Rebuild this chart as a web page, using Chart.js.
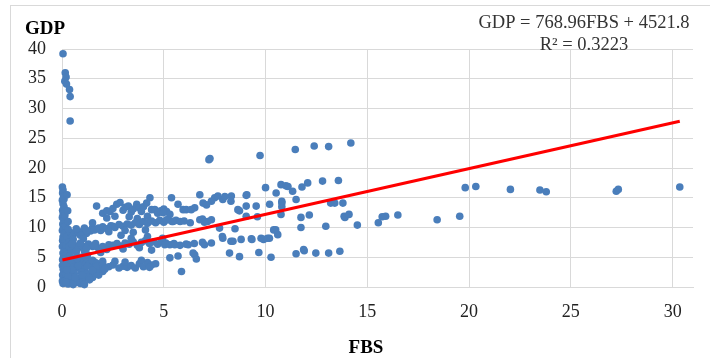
<!DOCTYPE html>
<html><head><meta charset="utf-8">
<script src="https://cdn.jsdelivr.net/npm/chart.js@4/dist/chart.umd.min.js"></script>
<style>html,body{margin:0;padding:0;background:#fff;}canvas{display:block}</style>
</head><body>
<canvas id="c" width="710" height="358"></canvas>
<script>
// ---- Data: [FBS, GDP] observations, grouped by region of the plot ----
const outlierPoints = [[0.05,39.2],[0.16,36.0],[0.2,35.3],[0.14,34.6],[0.22,34.1],[0.37,33.2],[0.4,32.0],[0.4,27.9]];
const zeroColumnPoints = [[0.02,16.8],[0.05,16.3],[0.03,15.8],[0.08,15.2],[0.02,14.6],[0.05,14.0],[0.1,13.5],[0.03,12.9],[0.06,12.3],[0.02,11.7],[0.1,11.2],[0.04,10.6],[0.07,10.0],[0.02,9.5],[0.12,9.0],[0.05,8.4],[0.03,7.8],[0.09,7.3],[0.02,6.8],[0.15,6.2],[0.05,5.7],[0.08,5.1],[0.03,4.6],[0.12,4.1],[0.02,3.6],[0.06,3.0],[0.1,2.5],[0.03,2.0],[0.07,1.5],[0.02,1.0],[0.05,0.6],[0.15,1.2],[0.2,2.2],[0.18,3.3],[0.22,5.5],[0.2,7.0],[0.25,8.5],[0.18,10.3],[0.14,12.0],[0.1,14.8],[0.2,4.8],[0.12,0.9],[0.3,11.0],[0.28,12.8],[0.25,15.5]];
const lowClusterPoints = [[0.4,9.2],[0.6,9.0],[0.8,9.1],[1.0,9.3],[1.2,9.0],[1.4,9.4],[0.5,8.5],[0.9,8.7],[0.35,7.5],[0.6,7.0],[0.8,6.6],[1.0,6.9],[1.3,7.2],[0.45,6.2],[0.7,5.9],[1.1,6.0],[0.4,5.2],[0.55,4.8],[0.9,5.0],[1.2,4.6],[0.3,4.2],[0.65,4.0],[1.0,3.8],[1.4,4.1],[0.4,3.4],[0.75,3.2],[1.1,3.0],[1.5,3.3],[0.35,2.6],[0.6,2.3],[0.95,2.5],[1.3,2.2],[0.45,1.8],[0.8,1.5],[1.2,1.7],[0.3,1.2],[0.6,1.0],[1.0,1.1],[1.5,1.6],[0.5,0.7],[0.9,0.6],[1.6,2.4],[1.8,2.0],[2.0,2.6],[1.7,3.0],[1.9,3.5],[1.6,4.2],[1.8,6.5],[1.5,6.8],[1.65,7.3],[0.3,0.5],[0.7,0.8],[1.1,0.4],[0.5,2.9],[0.85,4.4],[1.25,5.4],[0.35,6.8],[0.55,8.0],[1.05,8.1],[0.25,3.9],
  [0.3,9.7],[0.7,9.8],[1.1,9.9],[1.5,10.0],[1.9,9.5],[2.5,10.2],[0.5,7.2],[0.9,7.4],[1.2,6.5],[1.6,6.9],[0.3,1.8],[0.65,1.6],[1.0,2.0],[1.35,1.2],[0.25,2.9],[0.8,3.6],[1.25,3.5],[0.45,4.5],[0.75,4.8],[1.5,4.5],[1.7,4.0],[2.0,4.3],[0.2,0.8],[0.55,0.4]];
const upperBandPoints = [[1.7,13.6],[2.0,12.4],[2.2,12.8],[2.36,12.7],[2.5,13.2],[2.69,13.9],[2.85,14.2],[3.0,12.9],[3.1,13.4],[3.26,13.6],[3.4,12.6],[3.5,13.1],[3.67,13.9],[3.8,13.3],[3.9,12.7],[4.0,13.5],[4.16,14.1],[4.32,15.0],[4.4,13.0],[4.56,13.0],[4.7,12.4],[4.85,12.8],[5.0,13.1],[5.14,12.7],[5.3,12.2],[1.5,10.8],[2.2,11.6],[2.6,11.9],[3.3,11.8],[3.7,11.5],[4.2,11.9]];
const middleBandPoints = [[1.6,9.6],[1.8,9.9],[2.0,10.1],[2.2,9.8],[2.4,10.3],[2.6,10.0],[2.8,10.5],[3.0,10.2],[3.2,10.6],[3.4,10.4],[3.6,10.8],[3.8,10.5],[4.0,11.0],[4.2,10.7],[4.4,11.1],[4.6,10.8],[4.8,11.2],[5.0,10.9],[5.2,11.3],[5.4,11.0],[5.6,11.2],[5.8,11.0],[6.0,11.1],[1.2,9.5],[2.3,9.3],[3.1,9.5],[3.5,9.2],[4.1,9.6],[2.9,8.7]];
const lowerBandPoints = [[2.0,6.8],[2.3,7.1],[2.5,7.0],[2.7,7.3],[2.9,6.9],[3.1,7.4],[3.3,7.2],[3.5,7.6],[3.7,7.0],[3.9,7.5],[4.1,7.8],[4.3,7.3],[4.5,7.6],[4.7,7.2],[4.9,7.7],[5.1,7.4],[5.3,7.1],[5.5,7.3],[5.8,7.0],[6.1,7.2],[2.2,6.3],[3.0,6.4],[3.8,6.6],[4.4,6.2],[1.9,5.8],[4.2,8.5],[3.4,8.2]];
const bottomBandPoints = [[1.7,3.5],[2.0,3.8],[2.3,3.4],[2.5,3.7],[2.8,3.2],[3.0,3.5],[3.2,3.3],[3.4,3.6],[3.6,3.2],[3.8,3.9],[4.0,3.4],[4.2,4.1],[4.4,3.7],[4.6,3.9],[2.6,4.3],[3.9,4.5],[1.5,2.8],[2.1,3.0],[4.3,3.3],[3.1,4.2]];
const midRangePoints = [[5.38,15.0],[6.77,15.5],[7.5,15.0],[7.9,14.7],[8.32,15.3],[9.05,15.4],[7.66,15.3],[8.0,15.2],[9.08,15.5],[5.7,13.9],[5.95,13.0],[6.1,13.0],[6.52,13.3],[6.93,14.1],[7.34,14.4],[7.1,13.8],[8.64,13.0],[9.05,13.6],[9.54,13.6],[8.3,14.4],[6.35,13.0],[8.72,12.8],[4.97,12.5],[5.14,11.3],[5.46,11.0],[6.77,11.3],[6.9,11.4],[7.34,11.3],[7.15,11.0],[7.74,9.9],[9.05,11.9],[9.6,11.8],[6.3,10.8],[7.0,10.9],[4.94,8.2],[5.05,7.1],[5.54,7.1],[6.2,7.1],[7.0,7.1],[7.34,7.4],[7.9,8.2],[7.88,8.5],[8.3,7.7],[8.4,7.7],[9.3,8.1],[9.33,8.0],[9.78,8.2],[9.9,8.0],[6.5,7.3],[6.9,7.5],[5.3,4.9],[5.7,5.2],[6.52,5.4],[6.6,4.7],[6.44,5.7],[8.23,5.7],[8.72,5.1],[9.67,5.8],[5.87,2.6],[8.5,9.8],[8.8,8.0],[7.22,21.4],[7.27,21.6],[9.73,22.1]];
const highRangePoints = [[10.0,16.7],[10.76,17.2],[11.0,17.0],[11.33,16.1],[11.79,16.8],[12.07,17.5],[12.8,17.8],[13.58,17.9],[10.52,15.8],[11.1,16.9],[10.2,13.9],[10.8,14.1],[10.8,13.5],[11.5,14.7],[13.2,14.1],[13.4,14.1],[10.8,14.4],[13.8,14.1],[10.76,12.2],[11.74,11.7],[12.15,12.1],[13.86,11.9],[13.9,11.7],[14.1,12.2],[10.5,9.6],[10.6,8.8],[11.74,10.0],[12.96,10.2],[14.51,10.4],[10.4,9.6],[10.19,8.2],[10.1,8.2],[11.5,5.6],[11.9,6.1],[12.47,5.7],[13.1,5.7],[13.65,6.0],[10.27,5.0],[11.87,6.3],[11.46,23.1],[12.39,23.7],[13.1,23.6],[14.19,24.2]];
const farRangePoints = [[15.54,10.8],[15.73,11.8],[15.9,11.9],[16.5,12.1],[18.43,11.3],[19.54,11.9],[19.81,16.7],[20.33,16.9],[22.03,16.4],[23.48,16.3],[23.79,16.0],[27.23,16.1],[27.33,16.4],[30.35,16.8]];

// Trendline from the reported equation GDP = 768.96 FBS + 4521.8 (GDP in thousands on the axis)
const trendSlope = 768.96 / 1000;
const trendIntercept = 4521.8 / 1000;
const equationText = 'GDP = 768.96FBS + 4521.8';
const rSquaredText = 'R² = 0.3223';
const xAxisTitle = 'FBS';
const yAxisTitle = 'GDP';
const xTickValues = [0,5,10,15,20,25,30];
const yTickValues = [0,5,10,15,20,25,30,35,40];

const allPoints = [].concat(outlierPoints, zeroColumnPoints, lowClusterPoints, upperBandPoints, middleBandPoints, lowerBandPoints, bottomBandPoints, midRangePoints, highRangePoints, farRangePoints)
  .map(p => ({x: p[0], y: p[1]}));
const xs = allPoints.map(p => p.x);
const xMinData = Math.min(...xs), xMaxData = Math.max(...xs);
const trendData = [
  {x: xMinData, y: trendIntercept + trendSlope * xMinData},
  {x: xMaxData, y: trendIntercept + trendSlope * xMaxData}
];

const serif = 'Liberation Serif, Times New Roman, serif';
const textPlugin = {
  id: 'texts',
  beforeDraw(chart) {
    const c = chart.ctx;
    c.save();
    c.strokeStyle = '#d9d9d9';
    c.lineWidth = 1;
    c.strokeRect(10.5, 5.5, 760, 400);
    c.restore();
  },
  afterDraw(chart) {
    const c = chart.ctx;
    c.save();
    c.fillStyle = '#000';
    c.font = 'bold 19px ' + serif;
    c.textBaseline = 'middle';
    c.textAlign = 'left';
    c.fillText(yAxisTitle, 25, 29);
    c.textAlign = 'center';
    c.fillText(xAxisTitle, 366, 348);
    c.fillStyle = '#333';
    c.font = '18.5px ' + serif;
    c.fillText(equationText, 584, 23);
    c.fillText(rSquaredText, 584, 45);
    c.restore();
  }
};

new Chart(document.getElementById('c'), {
  type: 'scatter',
  data: { datasets: [
    { label: 'Trend', data: trendData, showLine: true, borderColor: '#ff0000', borderWidth: 3.2, pointRadius: 0, fill: false, order: 0, clip: false },
    { label: 'GDP', data: allPoints, backgroundColor: '#4a7ebb', borderWidth: 0, pointRadius: 3.8, order: 1, clip: false }
  ]},
  options: {
    responsive: false, animation: false, devicePixelRatio: 1,
    layout: { padding: { left: 0, right: 17, top: 49, bottom: 0 } },
    plugins: { legend: { display: false }, tooltip: { enabled: false } },
    scales: {
      x: {
        type: 'linear', min: 0, max: 31,
        afterBuildTicks(s) { s.ticks = xTickValues.map(v => ({ value: v })); },
        afterFit(s) { s.height = 71; },
        ticks: { font: { family: serif, size: 18 }, color: '#222', padding: 14, maxRotation: 0 },
        grid: { color: '#d9d9d9', drawTicks: false },
        border: { color: '#d9d9d9' }
      },
      y: {
        min: 0, max: 40,
        afterBuildTicks(s) { s.ticks = yTickValues.map(v => ({ value: v })); },
        afterFit(s) { s.width = 62; },
        ticks: { font: { family: serif, size: 18 }, color: '#222', padding: 16 },
        grid: { color: '#d9d9d9', drawTicks: false },
        border: { color: '#d9d9d9' }
      }
    }
  },
  plugins: [textPlugin]
});
</script>
</body></html>
